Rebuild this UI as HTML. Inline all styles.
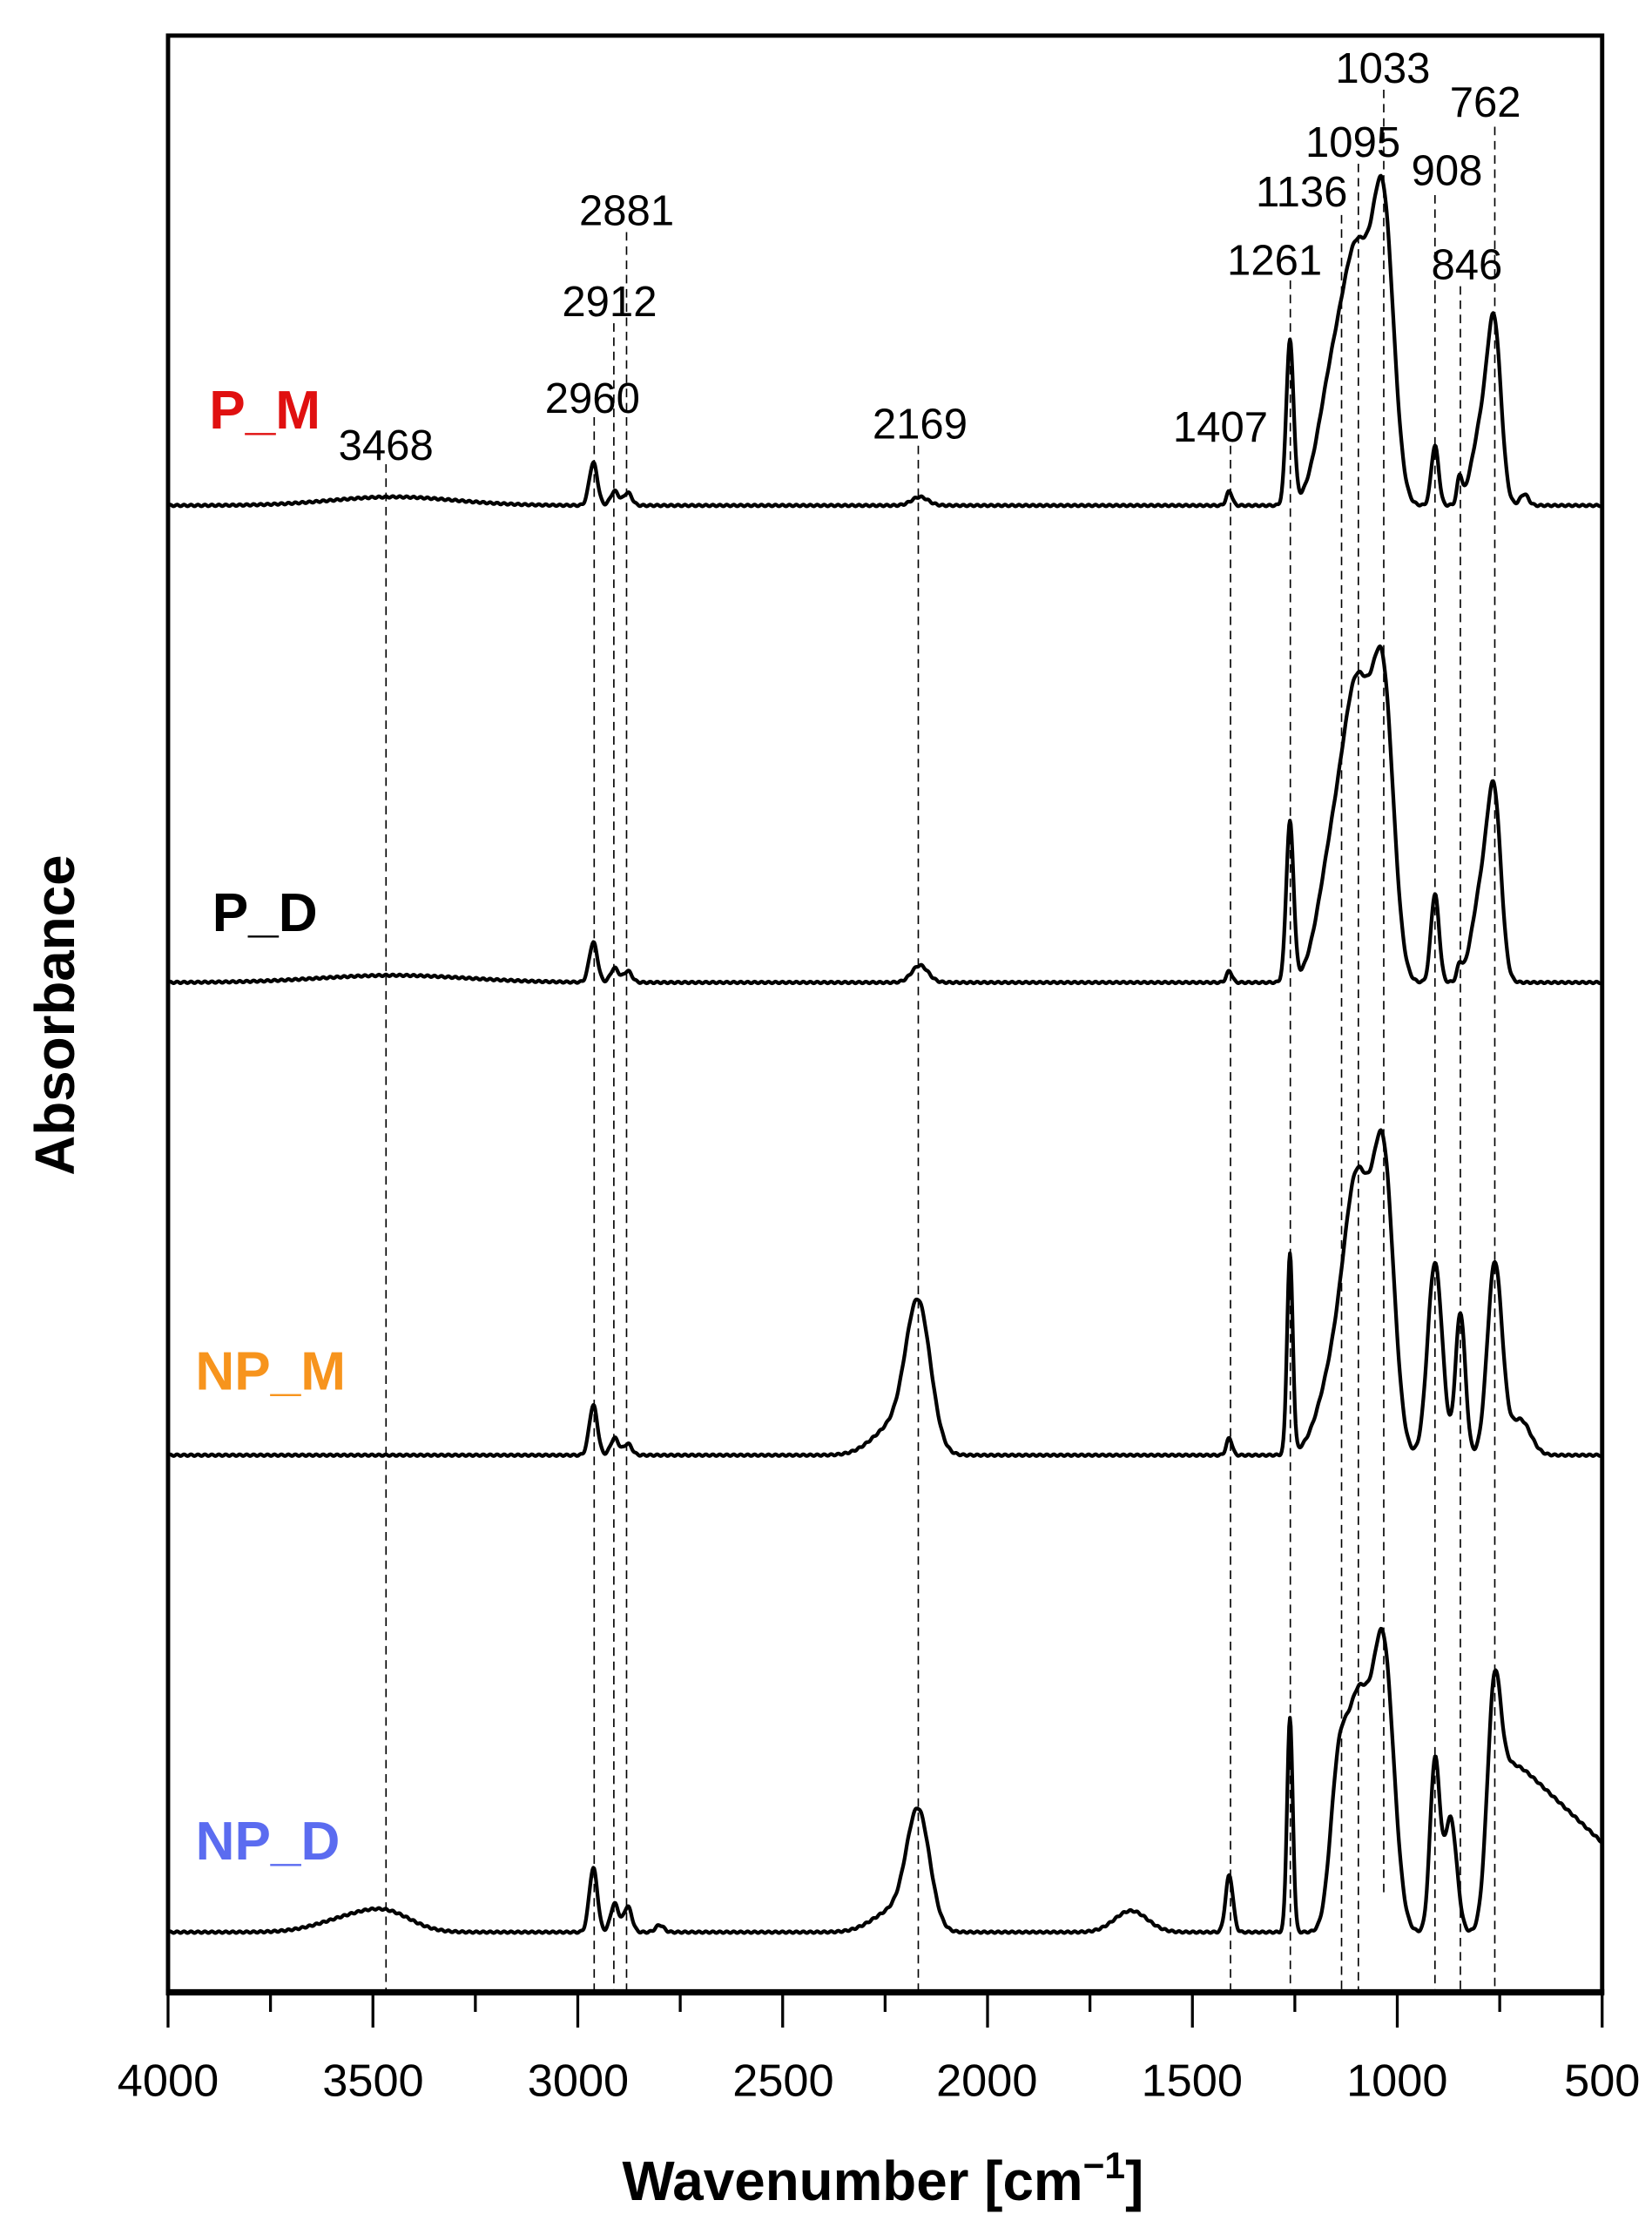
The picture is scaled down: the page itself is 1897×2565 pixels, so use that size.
<!DOCTYPE html>
<html><head><meta charset="utf-8"><style>
html,body{margin:0;padding:0;background:#fff;}
svg{display:block;}
text{font-family:"Liberation Sans",Arial,sans-serif;}
</style></head><body>
<svg id="s" width="1897" height="2565" viewBox="0 0 1160 1569" preserveAspectRatio="none" xmlns="http://www.w3.org/2000/svg">
<g id="dash" stroke="#000" stroke-width="1" stroke-dasharray="6,4" fill="none"></g>
<g id="spec" stroke="#000" stroke-width="2.6" fill="none" stroke-linejoin="round"></g>
<rect x="118" y="25" width="1007" height="1375" fill="none" stroke="#000" stroke-width="3"/>
<line x1="116.5" y1="1399" x2="1126.5" y2="1399" stroke="#000" stroke-width="4"/>
<g id="ticks" stroke="#000" stroke-width="2"></g>
<g font-size="32" text-anchor="middle" fill="#000">
<text x="118" y="1472">4000</text><text x="262" y="1472">3500</text><text x="406" y="1472">3000</text>
<text x="550" y="1472">2500</text><text x="693" y="1472">2000</text><text x="837" y="1472">1500</text>
<text x="981" y="1472">1000</text><text x="1125" y="1472">500</text>
</g>
<text x="620" y="1545" font-size="39" font-weight="bold" text-anchor="middle">Wavenumber [cm<tspan dy="-15" font-size="26">−1</tspan><tspan dy="15">]</tspan></text>
<text transform="translate(52,713) rotate(-90)" font-size="39" font-weight="bold" text-anchor="middle">Absorbance</text>
<g font-size="38" font-weight="bold" text-anchor="middle">
<text x="186" y="301" fill="#e01010">P_M</text>
<text x="186" y="654" fill="#000">P_D</text>
<text x="190" y="976" fill="#f7941d">NP_M</text>
<text x="188" y="1306" fill="#5b6cf0">NP_D</text>
</g>
<g font-size="30" text-anchor="middle" fill="#000">
<text x="271" y="323">3468</text><text x="416" y="290">2960</text><text x="428" y="222">2912</text>
<text x="440" y="158">2881</text><text x="646" y="308">2169</text><text x="857" y="310">1407</text>
<text x="895" y="193">1261</text><text x="914" y="145">1136</text><text x="950" y="110">1095</text>
<text x="971" y="58">1033</text><text x="1016" y="130">908</text><text x="1043" y="82">762</text>
<text x="1030" y="196">846</text>
</g>
</svg>
<script>
function X(w){return 118+(4000-w)*1007/3500;}
var NS="http://www.w3.org/2000/svg";
var dash=document.getElementById('dash');
[[3468,326,1398],[2960,293,1398],[2912,227,1398],[2881,163,1398],[2169,313,1398],[1407,313,1398],[1261,197,1398],[1136,151,1398],[1095,115,1398],[1033,63,1330],[908,137,1398],[846,201,1398],[762,89,1398]].forEach(function(d){
 var l=document.createElementNS(NS,'line');var x=X(d[0]);
 l.setAttribute('x1',x);l.setAttribute('x2',x);l.setAttribute('y1',d[1]);l.setAttribute('y2',d[2]);dash.appendChild(l);});
var tk=document.getElementById('ticks');
for(var w=4000;w>=500;w-=250){var l=document.createElementNS(NS,'line');var x=X(w);
 l.setAttribute('x1',x);l.setAttribute('x2',x);l.setAttribute('y1',1400);l.setAttribute('y2',(w%500==0)?1424:1413);tk.appendChild(l);}
var specs=[
 [355,[[3450,6,150],[2962,30,10],[2910,10,10],[2878,9,10],[2165,6,20],[1410,10,7],[1262,115,9],[1160,80,35],[1095,165,35],[1033,190,25],[908,42,9],[848,18,6],[790,60,25],[762,100,16],[690,8,10]],0],
 [690,[[3450,5,180],[2962,28,10],[2910,10,10],[2878,8,10],[2165,12,20],[1410,8,7],[1262,112,9],[1160,80,35],[1095,195,35],[1033,185,25],[908,62,10],[848,10,6],[790,70,25],[762,100,16]],0],
 [1022,[[2962,35,10],[2910,12,10],[2878,8,10],[2169,100,30],[2230,20,50],[1410,12,7],[1262,140,7],[1150,60,40],[1095,170,32],[1033,195,25],[908,135,18],[846,100,12],[762,135,18],[700,25,25]],0],
 [1357,[[3550,10,80],[3460,10,60],[2962,45,10],[2910,20,10],[2878,18,10],[2800,5,10],[2169,80,28],[2230,15,50],[1650,15,40],[1410,40,9],[1262,150,7],[1145,90,20],[1095,160,30],[1033,190,25],[908,120,12],[870,80,15],[762,175,18]],1]
];
var sg=document.getElementById('spec');
specs.forEach(function(s){
 var pts=[];
 for(var w=4000;w>=500;w-=2){var h=0;s[1].forEach(function(p){var d=w-p[0];h+=p[1]*Math.exp(-d*d/(2*p[2]*p[2]));});
  if(s[2]){h+=(1/(1+Math.exp((w-738)/9)))*(117-(700-w)*0.27);}
  h+=Math.sin(w*0.37)*0.6;
  pts.push(X(w).toFixed(2)+','+(s[0]-h).toFixed(2));}
 var pl=document.createElementNS(NS,'polyline');pl.setAttribute('points',pts.join(' '));sg.appendChild(pl);});
</script>
</body></html>
